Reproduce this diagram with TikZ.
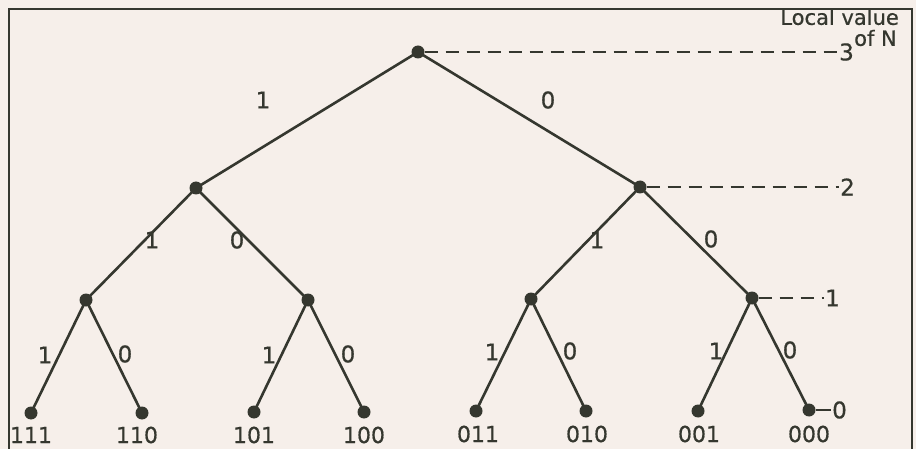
\documentclass[tikz,border=0pt]{standalone}
\usepackage{fontspec}
\setmainfont{DejaVu Sans}
\newfontface\labfont{DejaVu Sans}[FakeBold=0.6]
\begin{document}
\begin{tikzpicture}[x=1pt,y=-1pt,
  ink/.style={draw=inkc, line width=2.6pt},
  dot/.style={circle, fill=inkc, inner sep=0pt, minimum size=13pt},
  lbl/.style={text=inkc, font=\labfont\fontsize{23}{25}\selectfont, inner sep=1pt},
  leaf/.style={text=inkc, font=\labfont\fontsize{22}{24}\selectfont, inner sep=0pt},
  head/.style={text=inkc, font=\labfont\fontsize{21}{23}\selectfont, inner sep=0pt, anchor=east},
  lvl/.style={draw=inkc, line width=2pt, dash pattern=on 13pt off 8pt},
]
\definecolor{inkc}{HTML}{35372F}
\definecolor{paper}{HTML}{F6EFEA}
\useasboundingbox (0,0) rectangle (916,449);
\fill[paper] (0,0) rectangle (916,449);
% frame
\draw[inkc, line width=2.2pt] (9,460) -- (9,9) -- (912,9) -- (912,460);
% nodes
\node[dot] (r) at (418,52) {};
\node[dot] (a) at (196,188) {};
\node[dot] (b) at (640,187) {};
\node[dot] (c1) at (86,300) {};
\node[dot] (c2) at (308,300) {};
\node[dot] (c3) at (531,299) {};
\node[dot] (c4) at (752,298) {};
\node[dot] (l1) at (31,413) {};
\node[dot] (l2) at (142,413) {};
\node[dot] (l3) at (254,412) {};
\node[dot] (l4) at (364,412) {};
\node[dot] (l5) at (476,411) {};
\node[dot] (l6) at (586,411) {};
\node[dot] (l7) at (698,411) {};
\node[dot] (l8) at (809,410) {};
% edges
\draw[ink] (r.center) -- (a.center);
\draw[ink] (r.center) -- (b.center);
\draw[ink] (a.center) -- (c1.center);
\draw[ink] (a.center) -- (c2.center);
\draw[ink] (b.center) -- (c3.center);
\draw[ink] (b.center) -- (c4.center);
\draw[ink] (c1.center) -- (l1.center);
\draw[ink] (c1.center) -- (l2.center);
\draw[ink] (c2.center) -- (l3.center);
\draw[ink] (c2.center) -- (l4.center);
\draw[ink] (c3.center) -- (l5.center);
\draw[ink] (c3.center) -- (l6.center);
\draw[ink] (c4.center) -- (l7.center);
\draw[ink] (c4.center) -- (l8.center);
% edge labels
\node[lbl] (e1) at (263,100) {1};
\node[lbl] (e2) at (548,100) {0};
\node[lbl] (e3) at (152,240) {1};
\node[lbl] (e4) at (237,240) {0};
\node[lbl] (e5) at (597,240) {1};
\node[lbl] (e6) at (711,239) {0};
\node[lbl] (e7) at (45,355) {1};
\node[lbl] (e8) at (125,354) {0};
\node[lbl] (e9) at (269,355) {1};
\node[lbl] (e10) at (348,354) {0};
\node[lbl] (e11) at (492,352) {1};
\node[lbl] (e12) at (570,351) {0};
\node[lbl] (e13) at (716,351) {1};
\node[lbl] (e14) at (790,350) {0};
% leaf labels
\node[leaf] (t1) at (31,435) {111};
\node[leaf] (t2) at (137,435) {110};
\node[leaf] (t3) at (254,435) {101};
\node[leaf] (t4) at (364,435) {100};
\node[leaf] (t5) at (478,434) {011};
\node[leaf] (t6) at (587,434) {010};
\node[leaf] (t7) at (699,434) {001};
\node[leaf] (t8) at (809,434) {000};
% level indicators
\node[lbl, anchor=west] (n3) at (838,52) {3};
\node[lbl, anchor=west] (n2) at (839,187) {2};
\node[lbl, anchor=west] (n1) at (824,298) {1};
\node[lbl, anchor=west] (n0) at (831,410) {0};
\draw[lvl] (r) -- (n3);
\draw[lvl] (b) -- (n2);
\draw[lvl] (c4) -- (n1);
\draw[inkc, line width=2pt] (l8) -- (n0);
\node[head] (h1) at (899,17) {Local value};
\node[head] (h2) at (897,38) {of N};
\end{tikzpicture}
\end{document}
